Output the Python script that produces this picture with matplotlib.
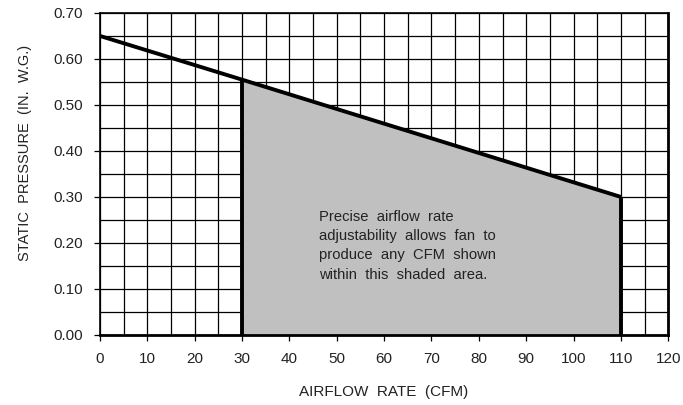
import numpy as np
import matplotlib.pyplot as plt

plt.rcParams['font.family'] = ['Liberation Sans', 'DejaVu Sans']

# curve: airflow (CFM) vs static pressure (in. w.g.)
cfm = [0, 30, 110]
pressure = [0.65, 0.555, 0.30]
shade_cfm = [30, 110]
shade_p = [0.555, 0.30]

xticks = list(range(0, 121, 10))
yticks = [0.0, 0.1, 0.2, 0.3, 0.4, 0.5, 0.6, 0.7]

note = ['Precise  airflow  rate',
        'adjustability  allows  fan  to',
        'produce  any  CFM  shown',
        'within  this  shaded  area.']

fig = plt.figure(figsize=(6.83, 4.05), dpi=100)
ax = fig.add_axes([0.1464, 0.173, 0.832, 0.795])

# grid every 5 cfm / 0.05 in.
for gx in np.arange(0, 121, 5):
    ax.axvline(gx, color='black', lw=0.9, zorder=1)
for gy in np.arange(0, 0.701, 0.05):
    ax.axhline(gy, color='black', lw=0.9, zorder=1)

ax.fill_between(shade_cfm, 0, shade_p, color='#c0c0c0', zorder=2)
ax.plot(cfm, pressure, color='black', lw=2.8, zorder=3, solid_capstyle='butt')
ax.vlines(shade_cfm, 0, shade_p, color='black', lw=2.8, zorder=3)

ax.text(46.2, 0.272, '\n'.join(note),
        fontsize=10.6, va='top', ha='left', color='#222222', linespacing=1.48, zorder=4)

ax.set_xlim(0, 120)
ax.set_ylim(0, 0.70)
ax.set_xticks(xticks)
ax.set_yticks(yticks)
ax.set_yticklabels(['%.2f' % v for v in yticks])
ax.tick_params(length=4, width=0.9, colors='black')
ax.tick_params(axis='y', labelsize=11, pad=8, labelcolor='#222222')
ax.tick_params(axis='x', labelsize=11, pad=8, labelcolor='#222222')
for s in ax.spines.values():
    s.set_linewidth(1.2)
ax.spines['bottom'].set_linewidth(2)
ax.spines['right'].set_linewidth(2)

ax.set_xlabel('AIRFLOW  RATE  (CFM)', fontsize=11, labelpad=14, color='#222222')
ax.set_ylabel('STATIC  PRESSURE  (IN.  W.G.)', fontsize=10.5, color='#222222')
ax.yaxis.set_label_coords(-0.12, 0.565)

fig.savefig('out.png', dpi=100)
